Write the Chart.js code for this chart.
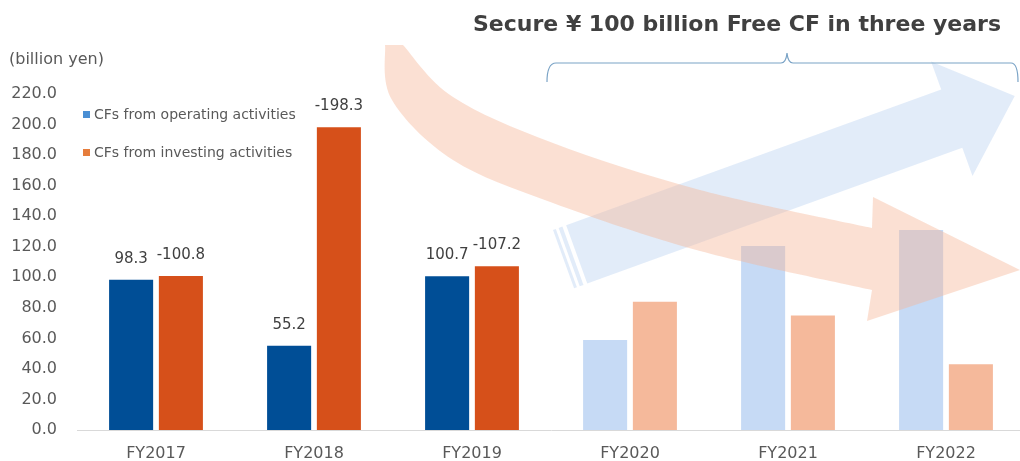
<!DOCTYPE html>
<html>
<head>
<meta charset="utf-8">
<script src="https://cdn.jsdelivr.net/npm/chart.js@4.4.1/dist/chart.umd.min.js"></script>
<style>
  html, body { margin: 0; padding: 0; background: #ffffff; overflow: hidden; }
  #wrap { width: 1020px; height: 461px; overflow: hidden; position: relative; }
  canvas { display: block; }
</style>
</head>
<body>
<div id="wrap"><canvas id="cf" width="1025" height="461"></canvas></div>
<script>
// Fiscal years: the first three are results, the rest are plan figures
const categories = ['FY2017', 'FY2018', 'FY2019', 'FY2020', 'FY2021', 'FY2022'];
const actualYears = 3;

// Cash flows, billion yen
const operatingCF = [98.3, 55.2, 100.7, 59.0, 120.5, 131.0];
const investingCF = [-100.8, -198.3, -107.2, -84.0, -75.0, -43.0];

const yTicks = [0, 20, 40, 60, 80, 100, 120, 140, 160, 180, 200, 220];

const seriesNames = ['CFs from operating activities', 'CFs from investing activities'];
const chartTitle = 'Secure \u00A5 100 billion Free CF in three years';
const unitLabel = '(billion yen)';

const FONT = 'DejaVu Sans';
const TEXT = '#595959';

const colours = {
  opActual: '#004e96', opPlan: '#c6daf5',
  invActual: '#d6501a', invPlan: '#f5b99b',
  opKey: '#4a8fd4', invKey: '#e67d3c'
};

function poly(ctx, pts) {
  ctx.beginPath();
  ctx.moveTo(pts[0][0], pts[0][1]);
  for (let i = 1; i < pts.length; i++) ctx.lineTo(pts[i][0], pts[i][1]);
  ctx.closePath();
  ctx.fill();
}

// Smooth curve through a list of points (Catmull-Rom as cubic Beziers),
// assuming the path is already at pts[0]
function splineThrough(ctx, pts) {
  for (let i = 0; i < pts.length - 1; i++) {
    const p0 = pts[Math.max(i - 1, 0)], p1 = pts[i], p2 = pts[i + 1], p3 = pts[Math.min(i + 2, pts.length - 1)];
    ctx.bezierCurveTo(
      p1[0] + (p2[0] - p0[0]) / 6, p1[1] + (p2[1] - p0[1]) / 6,
      p2[0] - (p3[0] - p1[0]) / 6, p2[1] - (p3[1] - p1[1]) / 6,
      p2[0], p2[1]
    );
  }
}

// Straight striped arrow rising to the right (operating CF growth)
function drawBlueArrow(ctx) {
  const ox = 553, oy = 230;
  const ux = 0.94, uy = -0.34, nx = 0.34, ny = 0.94;
  const P = (a, b) => [ox + a * ux + b * nx, oy + a * uy + b * ny];
  const w = 62;
  ctx.fillStyle = 'rgba(180, 205, 240, 0.38)';
  poly(ctx, [P(0, 0), P(3, 0), P(3, w), P(0, w)]);
  poly(ctx, [P(6, 0), P(10, 0), P(10, w), P(6, w)]);
  poly(ctx, [P(14, 0), P(413, 0), P(413, -30), P(480, w / 2), P(413, w + 30), P(413, w), P(14, w)]);
}

// Curved arrow sweeping down to the right (investing CF reduction)
function drawOrangeArrow(ctx) {
  const upper = [[403, 45], [453, 97], [553, 143], [700, 190], [872, 228]];
  const lower = [[872, 290], [700, 251], [553, 203], [453, 160], [392, 100], [385, 45]];
  ctx.fillStyle = 'rgba(245, 180, 150, 0.42)';
  ctx.beginPath();
  ctx.moveTo(upper[0][0], upper[0][1]);
  splineThrough(ctx, upper);
  ctx.lineTo(873, 197);
  ctx.lineTo(1020, 270);
  ctx.lineTo(867, 321);
  ctx.lineTo(lower[0][0], lower[0][1]);
  splineThrough(ctx, lower);
  ctx.closePath();
  ctx.fill();
}

// Brace spanning the plan years
function drawBrace(ctx) {
  ctx.save();
  ctx.strokeStyle = '#7aa3c6';
  ctx.lineWidth = 1.2;
  ctx.beginPath();
  ctx.moveTo(547, 82);
  ctx.quadraticCurveTo(547, 63, 556, 63);
  ctx.lineTo(781, 63);
  ctx.quadraticCurveTo(786, 63, 787, 53);
  ctx.quadraticCurveTo(788, 63, 793, 63);
  ctx.lineTo(1011, 63);
  ctx.quadraticCurveTo(1018, 63, 1018, 82);
  ctx.stroke();
  ctx.restore();
}

const decor = {
  id: 'decor',
  afterDatasetsDraw(chart) {
    const ctx = chart.ctx;
    ctx.save();
    drawBlueArrow(ctx);
    drawOrangeArrow(ctx);
    drawBrace(ctx);

    // value labels over the result years
    ctx.font = '15px "' + FONT + '"';
    ctx.fillStyle = '#404040';
    ctx.textAlign = 'center';
    ctx.textBaseline = 'middle';
    const sources = [operatingCF, investingCF];
    chart.data.datasets.forEach((ds, di) => {
      const meta = chart.getDatasetMeta(di);
      meta.data.forEach((bar, i) => {
        if (i >= actualYears) return;
        ctx.fillText(sources[di][i].toFixed(1), bar.x, bar.y - 21);
      });
    });

    // legend
    const keys = [colours.opKey, colours.invKey];
    const keyY = [115, 153];
    ctx.font = '14px "' + FONT + '"';
    ctx.textAlign = 'left';
    seriesNames.forEach((name, i) => {
      ctx.fillStyle = keys[i];
      ctx.fillRect(83, keyY[i] - 4, 7, 7);
      ctx.fillStyle = TEXT;
      ctx.fillText(name, 94, keyY[i]);
    });

    // unit and heading
    ctx.font = '16px "' + FONT + '"';
    ctx.fillStyle = TEXT;
    ctx.fillText(unitLabel, 9, 60);
    ctx.font = 'bold 22px "' + FONT + '"';
    ctx.fillStyle = '#404040';
    ctx.textAlign = 'center';
    ctx.fillText(chartTitle, 737, 25);
    ctx.restore();
  }
};

const colourFor = (actual, plan) => categories.map((c, i) => (i < actualYears ? actual : plan));

new Chart(document.getElementById('cf'), {
  type: 'bar',
  data: {
    labels: categories,
    datasets: [
      { label: seriesNames[0], data: operatingCF, backgroundColor: colourFor(colours.opActual, colours.opPlan) },
      { label: seriesNames[1], data: investingCF.map(Math.abs), backgroundColor: colourFor(colours.invActual, colours.invPlan) }
    ]
  },
  options: {
    responsive: false,
    animation: false,
    layout: { padding: { top: 94, left: 0, right: 0, bottom: 0 } },
    datasets: { bar: { categoryPercentage: 0.63, barPercentage: 0.885, borderWidth: 0 } },
    plugins: { legend: { display: false }, tooltip: { enabled: false }, title: { display: false } },
    scales: {
      x: {
        grid: { display: false, drawTicks: false },
        border: { display: true, color: '#d9d9d9', width: 1 },
        ticks: { padding: 14, color: TEXT, font: { family: FONT, size: 16 } },
        afterFit(s) { s.height = 31; }
      },
      y: {
        min: 0, max: 220,
        grid: { display: false, drawTicks: false },
        border: { display: false },
        ticks: { padding: 20, color: TEXT, font: { family: FONT, size: 16 }, callback: v => v.toFixed(1) },
        afterBuildTicks(s) { s.ticks = yTicks.map(v => ({ value: v })); },
        afterFit(s) { s.width = 77; }
      }
    }
  },
  plugins: [decor]
});
</script>
</body>
</html>
